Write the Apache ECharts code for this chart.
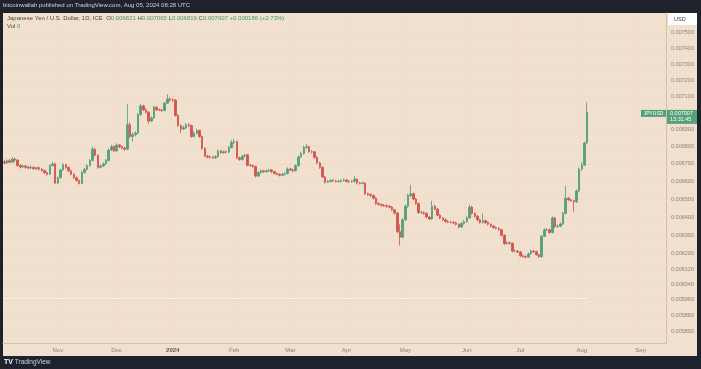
<!DOCTYPE html>
<html><head><meta charset="utf-8">
<script src="https://cdn.jsdelivr.net/npm/echarts@6/dist/echarts.min.js"></script>
<style>
html,body{margin:0;padding:0;background:#1e222d;width:701px;height:369px;overflow:hidden;}
#panel{position:absolute;left:3px;top:13px;width:694px;height:343px;background:#f2e0ce;}
#chart{position:absolute;left:0;top:0;width:701px;height:369px;}
</style></head><body>
<div id="panel"></div><div id="chart"></div>
<script>
// Daily JPY/USD candles, trading days (weekdays) from startDate
const startDate = '2023-10-04';
const axisEndDate = '2024-09-13';
const UNIT = 1e-6; // prices below are in millionths of a US dollar
const firstOpen = 6712;
const closes = [
6705,6718,6710,6728,6722,6690,6682,6688,6680,6676,6680,6672,6678,6670,6662,6650,6640,6690,6700,6590,
6620,6665,6695,6680,6660,6640,6620,6605,6588,6650,6668,6690,6720,6785,6750,6680,6688,6700,6720,6780,6800,6775,
6810,6800,6792,6785,6930,6860,6870,6880,6990,7043,7020,7005,6952,6970,7035,7020,7018,7015,7060,7085,7080,
7078,6985,6925,6905,6912,6930,6925,6860,6880,6895,6860,6790,6745,6740,6738,6735,6742,6775,6765,6770,6768,6795,6825,
6830,6735,6725,6745,6752,6692,6690,6685,6630,6650,6660,6655,6660,6665,6655,6645,6640,6635,6640,6645,6670,
6665,6660,6690,6740,6760,6795,6800,6770,6770,6738,6705,6680,6625,6595,6600,6605,6602,6600,6600,6605,6608,
6600,6598,6600,6612,6590,6588,6590,6530,6525,6520,6505,6475,6470,6465,6463,6460,6455,6440,6422,6320,6290,6385,
6460,6520,6530,6500,6475,6425,6425,6420,6400,6390,6460,6445,6410,6395,6385,6375,6372,6370,6368,6360,6345,6365,6375,
6395,6455,6420,6405,6385,6370,6380,6370,6360,6350,6342,6338,6330,6300,6255,6260,6257,6215,6215,6210,
6190,6185,6183,6200,6215,6212,6195,6185,6295,6330,6330,6315,6395,6348,6350,6362,6420,6505,6495,6490,6485,6545,6670,
6693,6821,7007];
const highs = [
6722,6726,6730,6740,6736,6728,6698,6696,6694,6688,6690,6686,6684,6684,6676,6668,6656,6698,6712,6706,
6628,6672,6705,6700,6686,6666,6646,6628,6610,6660,6676,6698,6728,6800,6792,6756,6696,6708,6728,6790,6812,6808,
6820,6816,6808,6800,7055,6945,6884,6892,7000,7055,7050,7028,7012,6980,7044,7040,7026,7024,7068,7115,7095,
7090,7085,6992,6932,6924,6940,6940,6930,6890,6905,6900,6866,6796,6752,6748,6746,6750,6784,6782,6778,6778,6804,6840,
6845,6836,6742,6752,6760,6758,6700,6696,6690,6658,6668,6666,6668,6672,6670,6660,6650,6646,6648,6652,6680,
6678,6672,6698,6748,6770,6806,6815,6806,6780,6776,6744,6712,6686,6630,6608,6612,6612,6608,6608,6612,6616,
6614,6606,6608,6630,6618,6596,6598,6596,6536,6532,6526,6510,6482,6476,6472,6470,6466,6460,6446,6428,6360,6395,
6470,6530,6580,6536,6506,6480,6434,6432,6426,6406,6490,6468,6450,6416,6400,6392,6382,6380,6378,6374,6366,6372,6384,
6404,6470,6462,6426,6410,6390,6420,6386,6376,6366,6356,6348,6344,6336,6306,6268,6266,6262,6224,6222,
6216,6196,6192,6208,6224,6222,6218,6200,6300,6338,6340,6336,6404,6400,6360,6370,6428,6575,6512,6502,6496,6555,6680,
6710,6830,7065];
const lows = [
6698,6700,6704,6706,6712,6684,6674,6676,6672,6670,6670,6666,6664,6662,6656,6642,6632,6636,6684,6584,
6585,6615,6660,6672,6654,6634,6614,6598,6582,6584,6644,6662,6684,6715,6744,6672,6674,6682,6694,6714,6774,6768,
6770,6792,6784,6776,6780,6850,6830,6860,6874,6984,7012,6998,6935,6946,6964,7012,7012,7008,7010,7054,7070,
7068,6978,6918,6880,6898,6905,6915,6852,6855,6872,6852,6782,6738,6732,6730,6728,6728,6736,6758,6758,6760,6762,6790,
6815,6728,6718,6720,6738,6686,6684,6678,6622,6624,6644,6648,6650,6654,6648,6638,6634,6628,6630,6634,6640,
6658,6652,6655,6684,6734,6754,6788,6764,6760,6730,6698,6672,6618,6588,6590,6594,6596,6594,6592,6594,6598,
6594,6590,6592,6594,6584,6582,6582,6524,6518,6512,6498,6468,6464,6458,6456,6452,6448,6434,6414,6312,6245,6284,
6378,6452,6510,6494,6468,6418,6416,6412,6394,6384,6386,6438,6404,6388,6378,6368,6366,6364,6360,6354,6338,6340,6358,
6368,6390,6414,6398,6378,6364,6364,6362,6354,6344,6336,6332,6324,6294,6248,6250,6250,6208,6208,6204,
6184,6180,6176,6178,6196,6206,6190,6178,6180,6290,6322,6308,6310,6340,6342,6344,6356,6414,6488,6484,6430,6478,6538,
6660,6688,6819];
const guideLevel = 5970; // faint horizontal level line
const monthTicks = [['2023-11-01','Nov'],['2023-12-01','Dec'],['2024-01-01','2024'],['2024-02-01','Feb'],['2024-03-01','Mar'],
  ['2024-04-01','Apr'],['2024-05-01','May'],['2024-06-03','Jun'],['2024-07-01','Jul'],['2024-08-01','Aug'],['2024-09-02','Sep']];
const yTicks = [0.0075,0.0074,0.0073,0.0072,0.0071,0.0069,0.0068,0.0067,0.0066,0.0065,0.0064,0.0063,0.0062,0.00612,0.00604,0.00596,0.00588,0.0058];
const headerVals = ['0.006821','0.007065','0.006819','0.007007','+0.000186 (+2.73%)'];

function weekdays(a, b) {
  const out = []; let d = new Date(a + 'T00:00:00Z'); const e = new Date(b + 'T00:00:00Z');
  while (d <= e) { const w = d.getUTCDay(); if (w !== 0 && w !== 6) out.push(d.toISOString().slice(0, 10)); d = new Date(d.getTime() + 86400000); }
  return out;
}
const cats = weekdays(startDate, axisEndDate);
const ohlc = closes.map((c, i) => [(i ? closes[i - 1] : firstOpen) * UNIT, c * UNIT, lows[i] * UNIT, highs[i] * UNIT]);
const monthMap = {}; monthTicks.forEach(m => monthMap[m[0]] = m[1]);
const lastClose = closes[closes.length - 1] * UNIT;
const GREEN = '#55a07a', RED = '#d2554a';
const FONT = 'Liberation Sans';

const chart = echarts.init(document.getElementById('chart'));
const option = {
  animation: false,
  backgroundColor: 'transparent',
  textStyle: { fontFamily: FONT },
  title: [
    { text: 'bitcoinwallah published on TradingView.com, Aug 05, 2024 08:28 UTC', left: 3, top: 2, padding: 0,
      textStyle: { color: '#d1d4dc', fontSize: 6, fontWeight: 'normal', fontFamily: FONT } },
    { text: 'Japanese Yen / U.S. Dollar, 1D, ICE  {k|O}{v|' + headerVals[0] + '} {k|H}{v|' + headerVals[1] + '} {k|L}{v|' + headerVals[2] + '} {k|C}{v|' + headerVals[3] + '} {v|' + headerVals[4] + '}',
      left: 7, top: 15, padding: 0,
      textStyle: { color: '#4a4440', fontSize: 6, fontWeight: 'normal', fontFamily: FONT,
        rich: { k: { color: '#4a4440', fontSize: 6, fontFamily: FONT }, v: { color: '#3f9a6d', fontSize: 6, fontFamily: FONT } } } },
    { text: 'Vol {z|0}', left: 7, top: 23, padding: 0,
      textStyle: { color: '#4a4440', fontSize: 6, fontWeight: 'normal', fontFamily: FONT, rich: { z: { color: '#26a69a', fontSize: 6, fontFamily: FONT } } } },
    { text: '{t|TV} TradingView', left: 4, top: 359, padding: 0,
      textStyle: { color: '#d1d4dc', fontSize: 6.5, fontWeight: 'normal', fontFamily: FONT, rich: { t: { color: '#ffffff', fontSize: 7, fontWeight: 'bold', fontFamily: FONT } } } }
  ],
  grid: { left: 3, right: 35, top: 13, bottom: 26 },
  xAxis: {
    type: 'category', data: cats, boundaryGap: true,
    axisLine: { show: true, lineStyle: { color: '#d3c1ae', width: 1 } },
    axisTick: { show: false },
    axisLabel: {
      interval: (i, v) => monthMap[v] !== undefined,
      formatter: v => monthMap[v] === '2024' ? '{b|2024}' : monthMap[v],
      color: '#8b8075', fontSize: 6, margin: 4, fontFamily: FONT,
      rich: { b: { fontWeight: 'bold', color: '#5e554b', fontSize: 6, fontFamily: FONT } }
    },
    splitLine: { show: true, interval: (i, v) => monthMap[v] !== undefined, lineStyle: { color: 'rgba(140,110,80,0.035)' } }
  },
  yAxis: {
    type: 'log', logBase: 10, position: 'right', min: 0.005742, max: 0.00763, scale: true,
    axisLine: { show: true, lineStyle: { color: '#d3c1ae' } },
    axisTick: { show: false, customValues: yTicks },
    axisLabel: { customValues: yTicks, formatter: v => Number(v).toFixed(6), color: '#8b8075', fontSize: 5.5, margin: 5, fontFamily: FONT },
    splitLine: { show: true, lineStyle: { color: 'rgba(140,110,80,0.03)' } }
  },
  series: [{
    type: 'candlestick', data: ohlc, barWidth: 2,
    itemStyle: { color: GREEN, color0: RED, borderColor: GREEN, borderColor0: RED, borderWidth: 0.85 },
    markLine: {
      silent: true, symbol: ['none', 'none'], label: { show: false },
      data: [
        { yAxis: lastClose, lineStyle: { color: 'rgba(255,245,235,0.8)', type: 'dotted', width: 1 } },
        [{ coord: [cats[0], guideLevel * UNIT], lineStyle: { color: 'rgba(255,245,235,0.9)', type: 'solid', width: 1 } },
         { coord: [cats[closes.length - 1], guideLevel * UNIT] }]
      ]
    }
  }]
};
chart.setOption(option);

const yP = chart.convertToPixel({ yAxisIndex: 0 }, lastClose);
chart.setOption({
  graphic: [
    { type: 'rect', shape: { x: 668, y: 13, width: 29, height: 12 }, style: { fill: '#ffffff' } },
    { type: 'text', style: { text: 'USD', x: 674, y: 19, verticalAlign: 'middle', fill: '#3a3a3a', fontSize: 5.5, fontFamily: FONT } },
    { type: 'rect', shape: { x: 641, y: yP - 2, width: 25, height: 7 }, style: { fill: GREEN } },
    { type: 'text', style: { text: 'JPYUSD', x: 653.5, y: yP + 1.5, align: 'center', verticalAlign: 'middle', fill: '#ffffff', fontSize: 5, fontFamily: FONT } },
    { type: 'rect', shape: { x: 667, y: yP - 2, width: 30, height: 14 }, style: { fill: GREEN } },
    { type: 'text', style: { text: lastClose.toFixed(6), x: 670, y: yP + 1.5, verticalAlign: 'middle', fill: '#ffffff', fontSize: 5.5, fontFamily: FONT } },
    { type: 'text', style: { text: '13:31:45', x: 670, y: yP + 7.5, verticalAlign: 'middle', fill: '#ffffff', fontSize: 5.5, fontFamily: FONT } }
  ]
});
</script>
</body></html>
